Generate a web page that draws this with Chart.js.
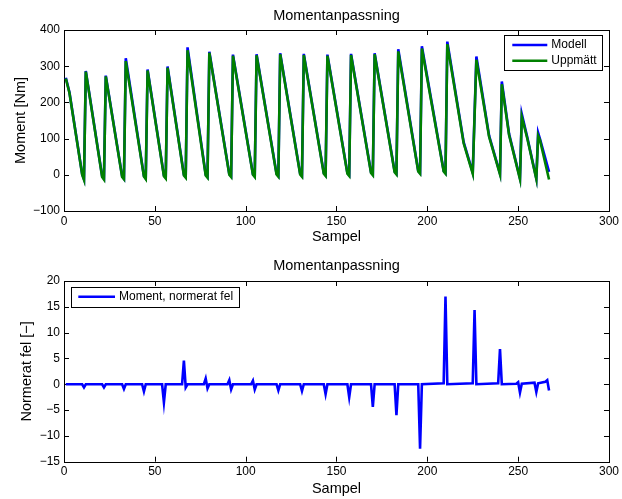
<!DOCTYPE html>
<html>
<head>
<meta charset="utf-8">
<script src="https://cdn.jsdelivr.net/npm/chart.js@4"></script>
<style>
  body { margin: 0; background: #fff; overflow: hidden; }
  canvas { display: block; }
</style>
</head>
<body>
<canvas id="moment" width="622" height="250"></canvas>
<canvas id="fel" width="622" height="249"></canvas>
<script>
// samples where the curves turn (peak, just before trough, trough)
const sampel = [1, 2, 3, 10, 11, 12, 21, 22, 23, 32, 33, 34, 44, 45, 46, 55, 56, 57, 66, 67,
  68, 78, 79, 80, 91, 92, 93, 104, 105, 106, 117, 118, 119, 130, 131, 132, 143, 144, 145, 156,
  157, 158, 169, 170, 171, 182, 183, 184, 195, 196, 197, 209, 210, 211, 220, 225, 227, 234, 240, 241,
  245, 251, 252, 255, 260, 261, 262, 267];
const modell = [268, 248, 228, 2, -12, 287, -4, -11, 274, -4, -11, 322, -3, -10, 291, -2, -8, 299, 0, -6,
  352, 0, -6, 340, 2, -4, 332, 2, -4, 333, 3, -3, 336, 3, -3, 334, 5, -1, 332, 5,
  -1, 334, 7, 1, 336, 9, 3, 347, 11, 5, 355, 11, 5, 368, 90, 6, 327, 108, 3, 258,
  113, -10, 168, 104, -10, 116, 99, 8];
const uppmatt = [266, 246, 226, 0, -14, 285, -6, -13, 272, -6, -12, 314, -5, -12, 288, -4, -10, 296, -2, -8,
  344, -2, -8, 337, 0, -6, 329, 0, -6, 330, 1, -5, 333, 1, -5, 331, 3, -3, 329, 3,
  -3, 331, 5, -1, 333, 7, 1, 341, 9, 3, 349, 9, 3, 361, 87, 3, 318, 105, 1, 250,
  110, -12, 160, 101, -12, 108, 96, -13];

const felSampel = [1, 10, 11, 12, 21, 22, 23, 32, 33, 34, 43, 44, 45, 54, 55, 56, 65, 66, 67, 68,
  77, 78, 79, 80, 90, 91, 92, 93, 103, 104, 105, 106, 117, 118, 119, 130, 131, 132, 143, 144,
  145, 156, 157, 158, 169, 170, 171, 182, 183, 184, 195, 196, 197, 209, 210, 211, 225, 226, 227, 239,
  240, 241, 249, 250, 251, 252, 259, 260, 261, 265, 266, 267];
const normeratFel = [0, 0, -0.6, 0, 0, -0.6, 0, 0, -0.9, 0, 0, -1.4, 0, 0, -3.5, 0, 0, 4.6, -0.6, 0,
  0, 1.1, -0.8, 0, 0, 0.8, -1, 0, 0, 0.7, -1, 0, 0, -1.2, 0, 0, -1.3, 0, 0, -1.9,
  0, 0, -2.5, 0, 0, -4.4, 0, 0, -6, 0, 0, -12.5, 0, 0.2, 17, 0, 0.2, 14.4, 0, 0.2,
  6.8, 0, 0.1, 0.4, -1.6, 0.1, 0.3, -1.5, 0.2, 0.5, 0.8, -1.2];

const xTicks = [0, 50, 100, 150, 200, 250, 300];
const momentTicks = [-100, 0, 100, 200, 300, 400];
const felTicks = [-15, -10, -5, 0, 5, 10, 15, 20];

Chart.defaults.font.family = '"Liberation Sans", Arial, sans-serif';
Chart.defaults.color = '#000';

const tickFont = { size: 12 };
const labelFont = { size: 14.5 };
const minus = v => String(v).replace('-', '\u2212');

// matlab style box with ticks pointing inwards
const matlabBox = {
  id: 'matlabBox',
  beforeDatasetsDraw(chart) {
    const { ctx, chartArea: a, scales: { x, y } } = chart;
    ctx.save();
    ctx.strokeStyle = '#000';
    ctx.lineWidth = 1;
    ctx.beginPath();
    x.ticks.forEach(t => {
      const px = Math.round(x.getPixelForValue(t.value)) + 0.5;
      ctx.moveTo(px, a.bottom); ctx.lineTo(px, a.bottom - 5);
      ctx.moveTo(px, a.top); ctx.lineTo(px, a.top + 5);
    });
    y.ticks.forEach(t => {
      const py = Math.round(y.getPixelForValue(t.value)) + 0.5;
      ctx.moveTo(a.left, py); ctx.lineTo(a.left + 5, py);
      ctx.moveTo(a.right, py); ctx.lineTo(a.right - 5, py);
    });
    ctx.stroke();
    ctx.strokeRect(Math.round(a.left) + 0.5, Math.round(a.top) + 0.5, Math.round(a.width), Math.round(a.height));
    ctx.restore();
  }
};

// legend in a framed white box inside the axes
const boxLegend = {
  id: 'boxLegend',
  afterDatasetsDraw(chart, args, o) {
    const { ctx, chartArea: a } = chart;
    const left = o.right != null ? a.right - o.right - o.width : a.left + o.left;
    const top = a.top + o.top;
    ctx.save();
    ctx.fillStyle = '#fff';
    ctx.fillRect(left, top, o.width, o.height);
    ctx.strokeStyle = '#000';
    ctx.lineWidth = 1;
    ctx.strokeRect(Math.round(left) + 0.5, Math.round(top) + 0.5, Math.round(o.width), Math.round(o.height));
    ctx.font = '12px "Liberation Sans", Arial, sans-serif';
    ctx.textBaseline = 'middle';
    chart.data.datasets.forEach((ds, i) => {
      const ly = top + o.firstRow + i * o.rowGap;
      ctx.strokeStyle = ds.borderColor;
      ctx.lineWidth = 2.5;
      ctx.beginPath();
      ctx.moveTo(left + o.lineStart, ly);
      ctx.lineTo(left + o.lineEnd, ly);
      ctx.stroke();
      ctx.fillStyle = '#000';
      ctx.fillText(ds.label, left + o.textX, ly);
    });
    ctx.restore();
  }
};

function axes(yTicks, xHeight, xTitlePad, yTitlePad) {
  return {
    x: {
      type: 'linear',
      min: xTicks[0],
      max: xTicks[xTicks.length - 1],
      afterBuildTicks: s => { s.ticks = xTicks.map(v => ({ value: v })); },
      afterFit: s => { s.height = xHeight; },
      grid: { display: false, drawTicks: false },
      border: { display: false },
      ticks: { font: tickFont, padding: 3, maxRotation: 0, autoSkip: false, callback: minus },
      title: { display: true, text: 'Sampel', font: labelFont, padding: { top: 0, bottom: xTitlePad } }
    },
    y: {
      type: 'linear',
      min: yTicks[0],
      max: yTicks[yTicks.length - 1],
      afterBuildTicks: s => { s.ticks = yTicks.map(v => ({ value: v })); },
      afterFit: s => { s.width = 64; },
      grid: { display: false, drawTicks: false },
      border: { display: false },
      ticks: { font: tickFont, padding: 4, autoSkip: false, callback: minus },
      title: { display: true, font: labelFont, padding: { top: yTitlePad, bottom: 0 } }
    }
  };
}

function titleOpts(bottomPad) {
  return {
    display: true,
    text: 'Momentanpassning',
    fullSize: false,
    font: { size: 14.5, weight: 'normal' },
    color: '#000',
    padding: { top: 7.3, bottom: bottomPad }
  };
}

const momentScales = axes(momentTicks, 39, 4.6, 11.8);
momentScales.y.title.text = 'Moment [Nm]';

new Chart(document.getElementById('moment'), {
  type: 'line',
  data: {
    datasets: [
      {
        label: 'Modell',
        data: sampel.map((s, i) => ({ x: s, y: modell[i] })),
        borderColor: '#0000ff',
        borderWidth: 2.6,
        pointRadius: 0,
        tension: 0,
        order: 2
      },
      {
        label: 'Uppmätt',
        data: sampel.map((s, i) => ({ x: s, y: uppmatt[i] })),
        borderColor: '#008000',
        borderWidth: 2.6,
        pointRadius: 0,
        tension: 0,
        order: 1
      }
    ]
  },
  options: {
    responsive: false,
    animation: false,
    devicePixelRatio: 1,
    layout: { padding: { left: 0, right: 9.3, top: 0, bottom: 0 } },
    scales: momentScales,
    plugins: {
      legend: { display: false },
      tooltip: { enabled: false },
      title: titleOpts(5.3),
      boxLegend: { right: 6.7, top: 5, width: 98, height: 35, firstRow: 10, rowGap: 15.7, lineStart: 8, lineEnd: 43, textX: 47 }
    }
  },
  plugins: [matlabBox, boxLegend]
});

const felScales = axes(felTicks, 37.3, 1.3, 18.3);
felScales.y.title.text = 'Normerat fel [\u2212]';

new Chart(document.getElementById('fel'), {
  type: 'line',
  data: {
    datasets: [{
      label: 'Moment, normerat fel',
      data: felSampel.map((s, i) => ({ x: s, y: normeratFel[i] })),
      borderColor: '#0000ff',
      borderWidth: 2.6,
      pointRadius: 0,
      tension: 0
    }]
  },
  options: {
    responsive: false,
    animation: false,
    devicePixelRatio: 1,
    layout: { padding: { left: 0, right: 9.3, top: 0, bottom: 0 } },
    scales: felScales,
    plugins: {
      legend: { display: false },
      tooltip: { enabled: false },
      title: titleOpts(6.3),
      boxLegend: { left: 6.7, top: 6.3, width: 168, height: 20, firstRow: 9.5, rowGap: 0, lineStart: 7.6, lineEnd: 44.3, textX: 48.3 }
    }
  },
  plugins: [matlabBox, boxLegend]
});
</script>
</body>
</html>
